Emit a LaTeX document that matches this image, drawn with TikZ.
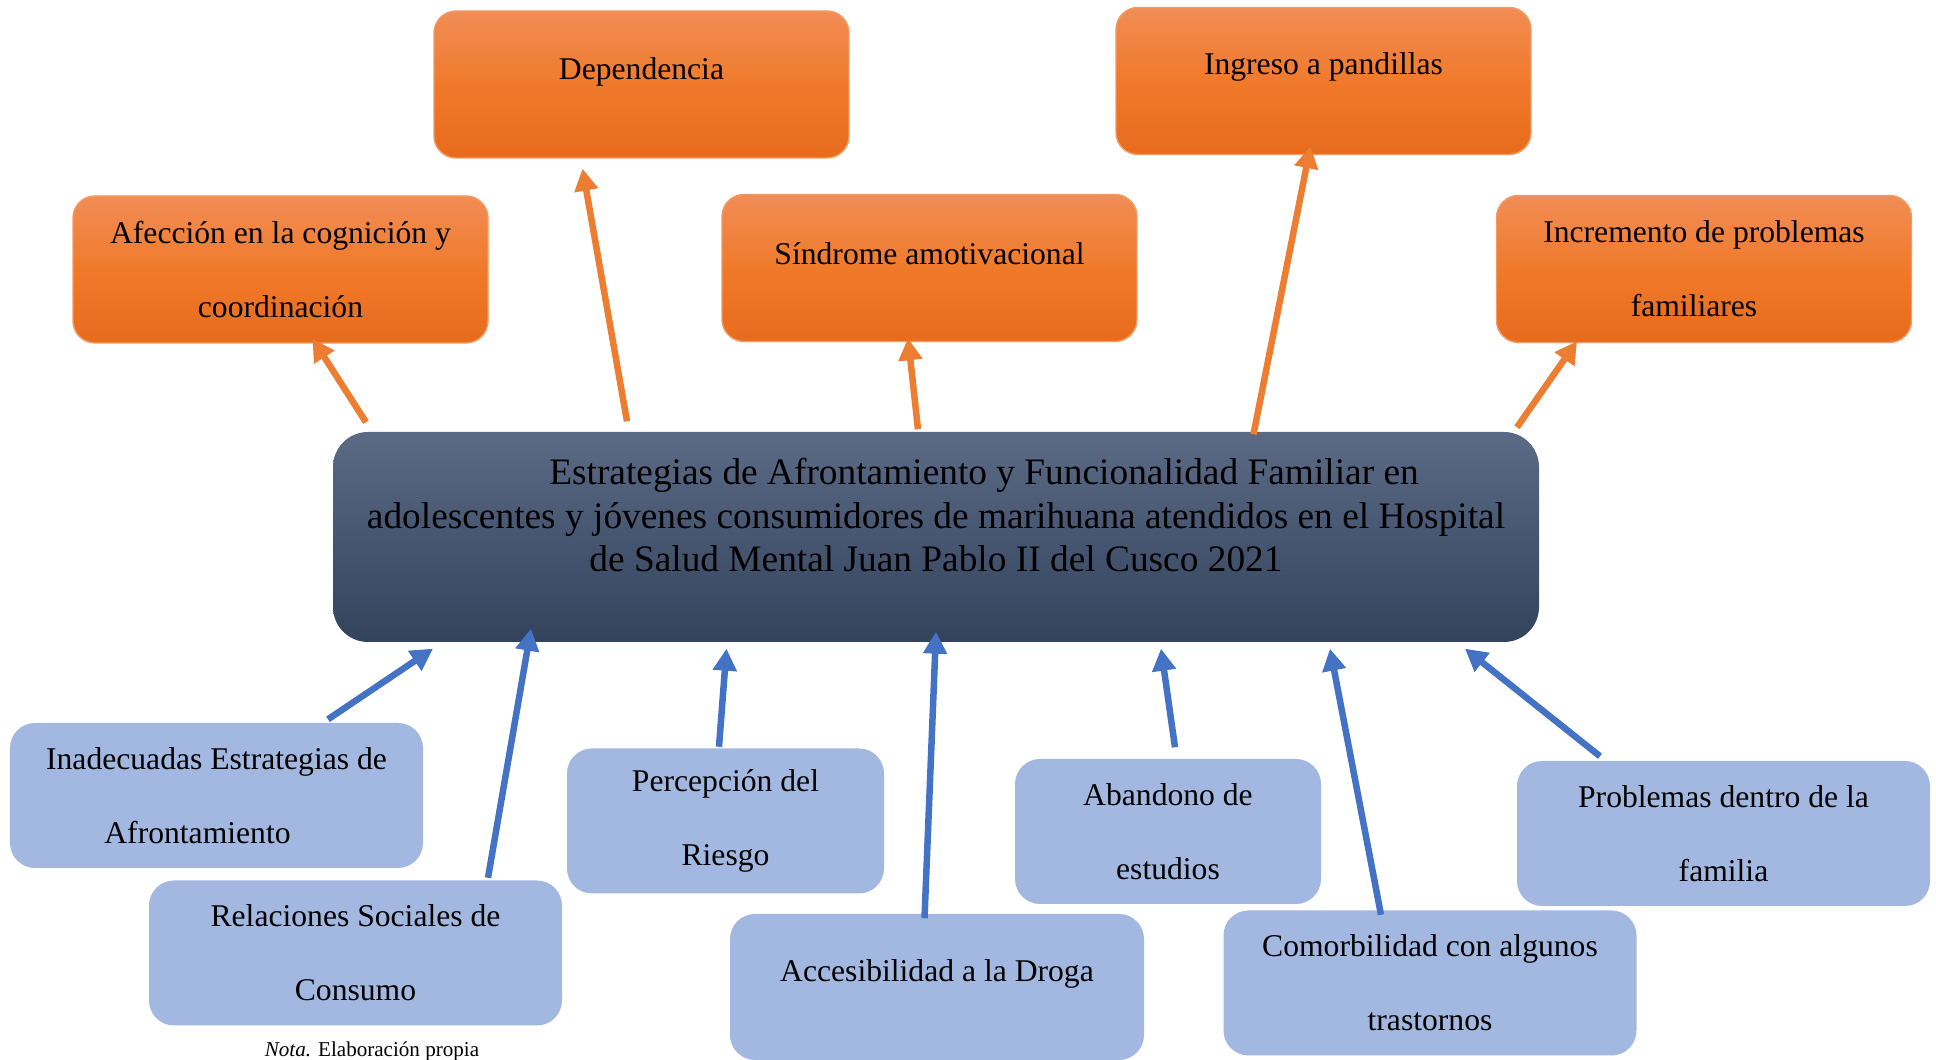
\documentclass[tikz,border=0pt]{standalone}
\usepackage{fontspec}
\setmainfont{Liberation Serif}
\usepackage{xcolor}
\usetikzlibrary{arrows.meta, calc}
\definecolor{naranjaArriba}{HTML}{F18D56}
\definecolor{naranjaMedio}{HTML}{F07A2A}
\definecolor{naranjaAbajo}{HTML}{E86B1C}
\definecolor{naranjaBorde}{HTML}{F39A62}
\definecolor{grisArriba}{HTML}{5B6A85}
\definecolor{grisAbajo}{HTML}{34435C}
\definecolor{celeste}{HTML}{A2B8E0}
\definecolor{flechaNaranja}{HTML}{ED7D31}
\definecolor{flechaAzul}{HTML}{4472C4}
\newcommand{\subir}[2]{\raisebox{#1}[\height][\depth]{#2}}
\tikzset{
    efecto/.style ={rectangle, rounded corners=0.22cm, draw=naranjaBorde, line width=0.4pt,
                    top color=naranjaArriba, bottom color=naranjaAbajo, middle color=naranjaMedio,
                    minimum width=4.15cm, minimum height=1.47cm, inner sep=0pt,
                    align=center, font=\fontsize{9}{21}\selectfont},
    causa/.style ={rectangle, rounded corners=0.25cm, fill=celeste,
                   minimum width=4.13cm, minimum height=1.45cm, inner sep=0pt,
                   align=center, font=\fontsize{9}{21}\selectfont},
    problema/.style ={rectangle, rounded corners=0.35cm, top color=grisArriba, bottom color=grisAbajo,
                      minimum width=12.06cm, minimum height=2.10cm, inner sep=0pt,
                      align=center, font=\fontsize{10.63}{12.3}\selectfont},
    oflecha/.style = {flechaNaranja, line width=0.065cm, -{Triangle[length=0.22cm, width=0.23cm]}},
    aflecha/.style = {flechaAzul, line width=0.065cm, -{Triangle[length=0.22cm, width=0.23cm]}}
    }

\begin{document}
\begin{tikzpicture}
    \useasboundingbox (0,0) rectangle (19.36,10.6);

    % consecuencias
    \node[efecto] (afeccion) at (2.805,7.905) {Afección en la cognición y\\coordinación};
    \node[efecto] (dependencia) at (6.415,9.755) {\subir{0.125cm}{Dependencia}};
    \node[efecto] (sindrome) at (9.295,7.92) {\subir{0.14cm}{Síndrome amotivacional}};
    \node[efecto] (ingreso) at (13.235,9.79) {\subir{0.14cm}{Ingreso a pandillas}};
    \node[efecto] (incremento) at (17.04,7.91) {Incremento de problemas\\familiares\hspace*{0.2cm}};

    % problema central
    \node[problema] (central) at (9.36,5.23) {\hspace*{0.96cm}Estrategias de Afrontamiento y Funcionalidad Familiar en\\
        adolescentes y jóvenes consumidores de marihuana atendidos en el Hospital\\
        de Salud Mental Juan Pablo II del Cusco 2021\\[-0.12cm]\strut};

    % causas
    \node[causa] (inadecuadas) at (2.165,2.645) {Inadecuadas Estrategias de\\Afrontamiento\hspace*{0.38cm}};
    \node[causa] (relaciones) at (3.555,1.07) {Relaciones Sociales de\\Consumo};
    \node[causa, minimum width=3.17cm] (percepcion) at (7.255,2.39) {Percepción del\\Riesgo};
    \node[causa, minimum width=4.14cm, minimum height=1.46cm] (accesibilidad) at (9.37,0.73) {\subir{0.13cm}{Accesibilidad a la Droga}};
    \node[causa, minimum width=3.06cm] (abandono) at (11.68,2.285) {Abandono de\\estudios};
    \node[causa] (comorbilidad) at (14.30,0.77) {Comorbilidad con algunos\\trastornos};
    \node[causa] (problemas) at (17.235,2.265) {Problemas dentro de la\\familia};

    \node[font=\fontsize{6}{7}\selectfont] (nota) at (3.72,0.09) {\textit{Nota.} Elaboración propia};

    % flechas hacia arriba
    \draw[oflecha] ([shift={(-5.70,0.09)}]central.north) -- ([shift={(0.32,0.05)}]afeccion.south);
    \draw[oflecha] ([shift={(-3.09,0.10)}]central.north) -- ([shift={(-0.59,-0.10)}]dependencia.south);
    \draw[oflecha] ([shift={(-0.18,0.02)}]central.north) -- ([shift={(-0.215,0.04)}]sindrome.south);
    \draw[oflecha] ([shift={(3.175,-0.03)}]central.north) -- ([shift={(-0.13,0.09)}]ingreso.south);
    \draw[oflecha] ([shift={(5.81,0.04)}]central.north) -- ([shift={(-1.27,0.02)}]incremento.south);

    \draw[aflecha] ([shift={(1.115,0.03)}]inadecuadas.north) -- ([shift={(-5.03,-0.06)}]central.south);
    \draw[aflecha] ([shift={(1.325,0.02)}]relaciones.north) -- ([shift={(-4.05,0.14)}]central.south);
    \draw[aflecha] ([shift={(-0.065,0.01)}]percepcion.north) -- ([shift={(-2.095,-0.06)}]central.south);
    \draw[aflecha] ([shift={(-0.125,-0.05)}]accesibilidad.north) -- ([shift={(0,0.11)}]central.south);
    \draw[aflecha] ([shift={(0.07,0.11)}]abandono.north) -- ([shift={(2.25,-0.06)}]central.south);
    \draw[aflecha] ([shift={(-0.49,-0.05)}]comorbilidad.north) -- ([shift={(3.94,-0.06)}]central.south);
    \draw[aflecha] ([shift={(-1.235,0.04)}]problemas.north) -- ([shift={(5.29,-0.06)}]central.south);
\end{tikzpicture}
\end{document}
